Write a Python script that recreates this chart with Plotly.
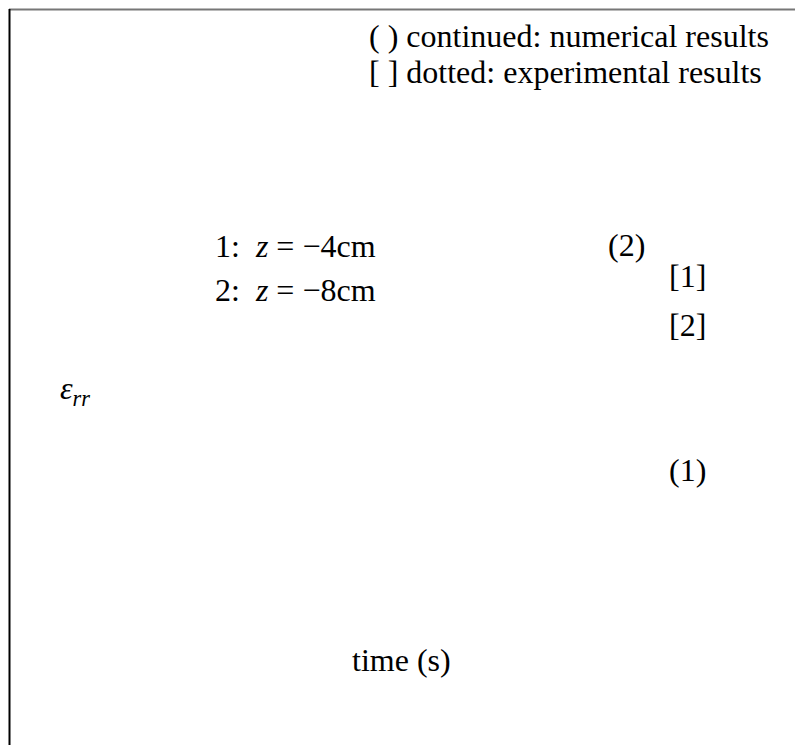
import plotly.graph_objects as go

# Text labels of the figure
legend_lines = [
    "( ) continued: numerical results",
    "[ ] dotted: experimental results",
]
case_labels = [
    "1:  <i>z</i> = −4cm",
    "2:  <i>z</i> = −8cm",
]
curve_tags = ["(2)", "[1]", "[2]", "(1)"]
y_label = "<i>ε</i><sub><i>rr</i></sub>"
x_label = "time (s)"

# Placement of the labels (pixel-like frame coordinates)
legend_pos = [(367, 36), (367, 72)]
case_pos = [(213, 246), (213, 290)]
tag_pos = [(606, 245), (667, 276), (667, 325), (667, 470)]
ylabel_pos = (58, 390)
xlabel_pos = (350, 660)

W, H = 795, 745
FONT = dict(family="Liberation Serif, Times New Roman, serif", size=32, color="black")

fig = go.Figure()

annotations = []
for text, (x, y) in zip(legend_lines, legend_pos):
    annotations.append(dict(x=x, y=y, text=text))
for text, (x, y) in zip(case_labels, case_pos):
    annotations.append(dict(x=x, y=y, text=text))
for text, (x, y) in zip(curve_tags, tag_pos):
    annotations.append(dict(x=x, y=y, text=text))
annotations.append(dict(x=ylabel_pos[0], y=ylabel_pos[1], text=y_label))
annotations.append(dict(x=xlabel_pos[0], y=xlabel_pos[1], text=x_label))

for a in annotations:
    a.update(xref="x", yref="y", xanchor="left", yanchor="middle",
             showarrow=False, font=FONT)

fig.update_layout(
    width=W, height=H,
    margin=dict(l=0, r=0, t=0, b=0),
    paper_bgcolor="white", plot_bgcolor="white",
    xaxis=dict(range=[0, W], visible=False, fixedrange=True),
    yaxis=dict(range=[H, 0], visible=False, fixedrange=True),
    annotations=annotations,
    shapes=[
        # top border
        dict(type="line", xref="x", yref="y", x0=9, x1=W, y0=9.5, y1=9.5,
             line=dict(color="#777777", width=2)),
        # left border
        dict(type="line", xref="x", yref="y", x0=9.5, x1=9.5, y0=9, y1=H,
             line=dict(color="black", width=2)),
    ],
    showlegend=False,
)

fig.write_html("out.html")
